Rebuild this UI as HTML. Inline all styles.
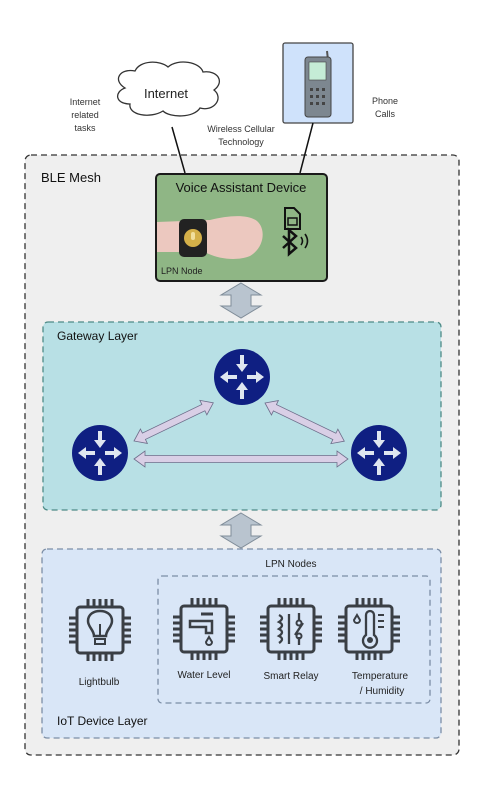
<!DOCTYPE html>
<html><head><meta charset="utf-8"><style>
html,body{margin:0;padding:0;background:#fff;}
svg{display:block;font-family:"Liberation Sans",sans-serif;}
</style></head><body>
<svg width="487" height="802" viewBox="0 0 487 802" xmlns="http://www.w3.org/2000/svg">
<defs>
<g id="chip">
 <rect x="-23" y="-23" width="46" height="46" rx="3" fill="none" stroke="#3a3f45" stroke-width="3"/>
 <g stroke="#3a3f45" stroke-width="3">
  <path d="M-12,-23v-8M-6,-23v-8M0,-23v-8M6,-23v-8M12,-23v-8"/>
  <path d="M-12,23v8M-6,23v8M0,23v8M6,23v8M12,23v8"/>
  <path d="M-23,-12h-8M-23,-6h-8M-23,0h-8M-23,6h-8M-23,12h-8"/>
  <path d="M23,-12h8M23,-6h8M23,0h8M23,6h8M23,12h8"/>
 </g>
</g>
<g id="router">
 <circle r="28" fill="#0f1f82"/>
 <g fill="#dfe6f0">
  <path d="M-2,-22h4v9h4l-6,8l-6,-8h4z"/>
  <path d="M-2,22h4v-9h4l-6,-8l-6,8h4z"/>
  <path d="M-5,-2v4h-9v4l-8,-6l8,-6v4z"/>
  <path d="M5,-2v4h9v4l8,-6l-8,-6v4z"/>
 </g>
</g>
<g id="blk">
 <path d="M0,0 L20,12 L10,12 L10,23 L20,23 L0,35 L-20,23 L-10,23 L-10,12 L-20,12 Z" fill="#b9c4cf" stroke="#7f8c98" stroke-width="1"/>
</g>
<path id="dia" d="M0,0 L11,-8 L11,-3.5 L77,-3.5 L77,-8 L88,0 L77,8 L77,3.5 L11,3.5 L11,8 Z" fill="#d9cfe6" stroke="#6d6d8a" stroke-width="0.8"/>
</defs>

<!-- cloud -->
<path d="M125,88 C112,80 120,68 135,71 C140,60 160,60 168,67 C178,58 200,62 203,72 C218,70 225,82 214,90 C224,98 214,112 200,108 C194,118 170,118 163,111 C150,119 128,115 130,104 C115,104 114,92 125,88 Z" fill="#fff" stroke="#333" stroke-width="1.3"/>
<text x="166" y="98" font-size="13" text-anchor="middle" fill="#222">Internet</text>
<text x="85" y="105" font-size="9" text-anchor="middle" fill="#333">Internet</text>
<text x="85" y="118" font-size="9" text-anchor="middle" fill="#333">related</text>
<text x="85" y="131" font-size="9" text-anchor="middle" fill="#333">tasks</text>
<text x="241" y="132" font-size="9" text-anchor="middle" fill="#333">Wireless Cellular</text>
<text x="241" y="145" font-size="9" text-anchor="middle" fill="#333">Technology</text>
<text x="385" y="104" font-size="9" text-anchor="middle" fill="#333">Phone</text>
<text x="385" y="117" font-size="9" text-anchor="middle" fill="#333">Calls</text>

<!-- phone -->
<rect x="283" y="43" width="70" height="80" rx="2" fill="#cfe2fb" stroke="#444" stroke-width="1.3"/>
<line x1="327" y1="51" x2="328" y2="60" stroke="#555" stroke-width="2"/>
<rect x="305" y="57" width="26" height="60" rx="3" fill="#7d8790" stroke="#444" stroke-width="1"/>
<rect x="309" y="62" width="17" height="18" fill="#c5ecd6" stroke="#444" stroke-width="0.6"/>
<g fill="#444">
 <rect x="310" y="88" width="3" height="3"/><rect x="316" y="88" width="3" height="3"/><rect x="322" y="88" width="3" height="3"/>
 <rect x="310" y="95" width="3" height="3"/><rect x="316" y="95" width="3" height="3"/><rect x="322" y="95" width="3" height="3"/>
 <rect x="310" y="102" width="3" height="3"/><rect x="316" y="102" width="3" height="3"/><rect x="322" y="102" width="3" height="3"/>
</g>

<!-- BLE mesh -->
<rect x="25" y="155" width="434" height="600" rx="6" fill="#efefef" stroke="#333" stroke-width="1.3" stroke-dasharray="6,4"/>
<text x="41" y="182" font-size="13" fill="#111">BLE Mesh</text>

<line x1="172" y1="127" x2="185" y2="173" stroke="#111" stroke-width="1.5"/>
<line x1="313" y1="123" x2="300" y2="173" stroke="#111" stroke-width="1.5"/>

<!-- voice device -->
<rect x="156" y="174" width="171" height="107" rx="4" fill="#8fb685" stroke="#1a1a1a" stroke-width="2"/>
<text x="241" y="192" font-size="13" text-anchor="middle" fill="#111">Voice Assistant Device</text>
<path d="M157,222 L210,220 C230,215 250,214 258,222 C266,230 264,248 250,256 C235,262 215,258 205,252 L157,252 Z" fill="#ecc8bf"/>
<rect x="179" y="219" width="28" height="38" rx="5" fill="#222"/>
<circle cx="193" cy="238" r="9" fill="#d4b049"/>
<rect x="191" y="232" width="4" height="8" rx="2" fill="#f1df9d"/>
<text x="161" y="274" font-size="9" fill="#222">LPN Node</text>
<path d="M285,208 h9 l6,6 v15 h-15 z" fill="none" stroke="#111" stroke-width="2"/>
<rect x="288" y="218" width="9" height="7" fill="none" stroke="#111" stroke-width="1.5"/>
<path d="M283,236 L296,248 L289,254 V230 L296,236 L283,248" fill="none" stroke="#111" stroke-width="2.5"/>
<path d="M301,237 q3,4 0,8 M305,234 q5,7 0,14" fill="none" stroke="#111" stroke-width="1.6"/>

<use href="#blk" x="241" y="283"/>

<!-- Gateway -->
<rect x="43" y="322" width="398" height="188" rx="5" fill="#b8e0e5" stroke="#4d8a86" stroke-width="1.3" stroke-dasharray="6,4"/>
<text x="57" y="340" font-size="12" fill="#111">Gateway Layer</text>
<path d="M134,459 L145,451 L145,455.5 L337,455.5 L337,451 L348,459 L337,467 L337,462.5 L145,462.5 L145,467 Z" fill="#d9cfe6" stroke="#6d6d8a" stroke-width="0.8"/>
<use href="#dia" transform="translate(134,441) rotate(-25.7)"/>
<use href="#dia" transform="translate(265,403) rotate(25.7)"/>
<use href="#router" x="242" y="377"/>
<use href="#router" x="100" y="453"/>
<use href="#router" x="379" y="453"/>

<use href="#blk" x="241" y="513"/>

<!-- IoT -->
<rect x="42" y="549" width="399" height="189" rx="5" fill="#d9e6f7" stroke="#7c8ea6" stroke-width="1.3" stroke-dasharray="6,4"/>
<rect x="158" y="576" width="272" height="127" rx="4" fill="none" stroke="#7c8ea6" stroke-width="1.3" stroke-dasharray="6,4"/>
<text x="291" y="567" font-size="10" text-anchor="middle" fill="#222">LPN Nodes</text>
<text x="57" y="725" font-size="12" fill="#111">IoT Device Layer</text>

<g transform="translate(100,630)"><use href="#chip"/>
 <path d="M-6,6 C-6,0 -12,-3 -12,-9 C-12,-16 -6,-19 0,-19 C6,-19 12,-16 12,-9 C12,-3 6,0 6,6 Z" fill="none" stroke="#3a3f45" stroke-width="2.5"/>
 <rect x="-5" y="9" width="10" height="5" fill="none" stroke="#3a3f45" stroke-width="2"/>
 <line x1="0" y1="6" x2="0" y2="-6" stroke="#3a3f45" stroke-width="2"/>
</g>
<g transform="translate(204,629)"><use href="#chip"/>
 <path d="M-14,-8 h22 v12 h-6 v-6 h-16 z" fill="none" stroke="#3a3f45" stroke-width="2.5"/>
 <line x1="-3" y1="-15" x2="9" y2="-15" stroke="#3a3f45" stroke-width="3"/>
 <path d="M5,8 l3,5 a3,3 0 1 1 -6,0 z" fill="none" stroke="#3a3f45" stroke-width="2"/>
</g>
<g transform="translate(291,629)"><use href="#chip"/>
 <path d="M-12,-14 q6,3 0,7 q6,3 0,7 q6,3 0,7 q6,3 0,7" fill="none" stroke="#3a3f45" stroke-width="2.3"/>
 <line x1="-2" y1="-15" x2="-2" y2="15" stroke="#3a3f45" stroke-width="2.3"/>
 <path d="M8,-16 v8 M8,8 v8 M4,6 l8,-12" stroke="#3a3f45" stroke-width="2.3" fill="none"/>
 <circle cx="8" cy="-6" r="2.5" fill="none" stroke="#3a3f45" stroke-width="2"/>
 <circle cx="8" cy="7" r="2.5" fill="none" stroke="#3a3f45" stroke-width="2"/>
</g>
<g transform="translate(369,629)"><use href="#chip"/>
 <path d="M-3,6 V-14 a4,4 0 0 1 8,0 V6 a7,7 0 1 1 -8,0 z" fill="none" stroke="#3a3f45" stroke-width="2.3"/>
 <circle cx="1" cy="11" r="3" fill="#3a3f45"/>
 <path d="M-12,-14 l3,5 a3,3 0 1 1 -6,0 z" fill="none" stroke="#3a3f45" stroke-width="2"/>
 <path d="M9,-14h6M9,-8h6M9,-2h6" stroke="#3a3f45" stroke-width="2"/>
</g>

<text x="99" y="685" font-size="10" text-anchor="middle" fill="#222">Lightbulb</text>
<text x="204" y="678" font-size="10" text-anchor="middle" fill="#222">Water Level</text>
<text x="291" y="679" font-size="10" text-anchor="middle" fill="#222">Smart Relay</text>
<text x="380" y="679" font-size="10" text-anchor="middle" fill="#222">Temperature</text>
<text x="382" y="694" font-size="10" text-anchor="middle" fill="#222">/ Humidity</text>
</svg>
</body></html>
